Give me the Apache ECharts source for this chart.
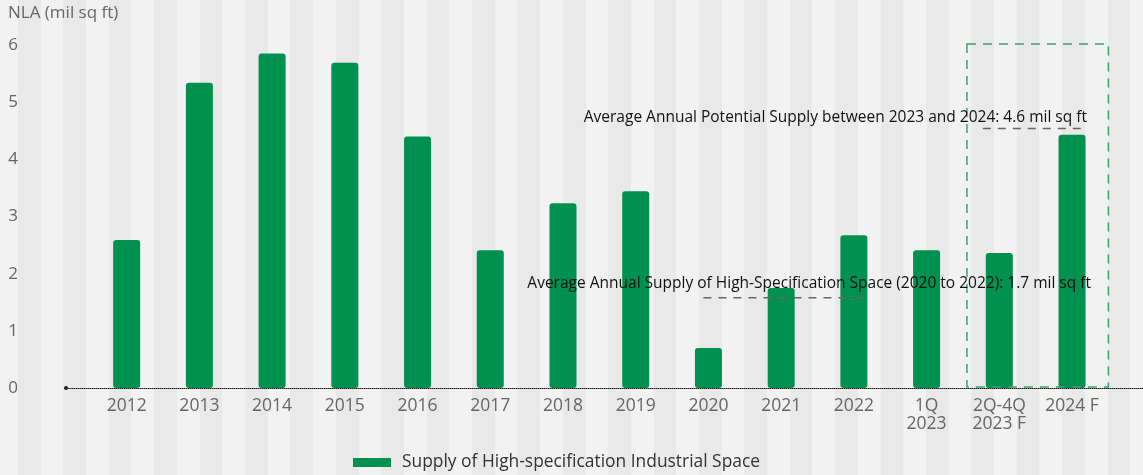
<!DOCTYPE html>
<html>
<head>
<meta charset="utf-8">
<script src="https://cdn.jsdelivr.net/npm/echarts@6/dist/echarts.min.js"></script>
<style>
  html, body { margin: 0; padding: 0; }
  body {
    width: 1143px; height: 475px; overflow: hidden;
    background: repeating-linear-gradient(90deg, #e9e9e9 18px, #e9e9e9 40.7px, #f2f2f2 40.7px, #f2f2f2 63.4px);
  }
  #chart { width: 1143px; height: 475px; }
</style>
</head>
<body>
<div id="chart"></div>
<script>
var categories = ['2012', '2013', '2014', '2015', '2016', '2017', '2018', '2019', '2020', '2021', '2022',
                  '1Q\n2023', '2Q-4Q\n2023 F', '2024 F'];
var supply = [2.59, 5.34, 5.85, 5.69, 4.40, 2.41, 3.23, 3.44, 0.70, 1.75, 2.67, 2.41, 2.36, 4.43];
var yTicks = [0, 1, 2, 3, 4, 5, 6];
var seriesName = 'Supply of High-specification Industrial Space';
var avgTexts = ['Average Annual Supply of High-Specification Space (2020 to 2022): 1.7 mil sq ft',
                'Average Annual Potential Supply between 2023 and 2024: 4.6 mil sq ft'];
// dashed guide lines: first cat index, last cat index, level
var avgLines = [[8, 10, 1.58], [12, 13, 4.54]];
var forecastBox = [[12, 13, 0, 6]]; // first cat, last cat, bottom, top

(function(){
  var myChart = echarts.init(document.getElementById('chart'));
  var green = '#00904f';
  var font = '"Open Sans", sans-serif';
  // how far each guide line runs past the category centres (px, left / right)
  var linePad = [[5, 14], [16.5, 15]];

  var option = {
    backgroundColor: 'transparent',
    animation: false,
    textStyle: { fontFamily: font },
    title: {
      text: 'NLA (mil sq ft)',
      left: 3, top: 0,
      textStyle: { fontSize: 17, fontWeight: 'normal', color: '#666', fontFamily: font }
    },
    legend: {
      data: [seriesName],
      left: 348, top: 449,
      icon: 'rect',
      itemWidth: 38, itemHeight: 9, itemGap: 10,
      textStyle: { fontSize: 17.4, color: '#333', fontFamily: font, padding: [0, 0, 0, 6] }
    },
    grid: [
      { left: 90.3, right: 34.6, top: 45, bottom: 87 },
      { left: 66, right: 0, top: 45, bottom: 87 }
    ],
    xAxis: [{
      type: 'category',
      gridIndex: 0,
      data: categories,
      axisLine: { show: false },
      axisTick: { show: false },
      axisLabel: { color: '#666', fontSize: 17.5, lineHeight: 18, margin: 9, interval: 0, fontFamily: font }
    }, {
      type: 'value',
      gridIndex: 1,
      min: 0, max: 1,
      axisLine: {
        show: true,
        symbol: ['circle', 'none'],
        symbolSize: [4, 4],
        lineStyle: { color: '#222', type: 'dotted', width: 1 }
      },
      axisTick: { show: false },
      axisLabel: { show: false },
      splitLine: { show: false }
    }],
    yAxis: [{
      type: 'value',
      gridIndex: 0,
      min: yTicks[0], max: yTicks[yTicks.length - 1], interval: 1,
      axisLine: { show: false },
      axisTick: { show: false },
      splitLine: { show: false },
      axisLabel: { color: '#666', fontSize: 17, align: 'left', margin: 82, fontFamily: font }
    }, {
      type: 'value',
      gridIndex: 1,
      min: 0, max: 1,
      show: false
    }],
    series: [{
      name: seriesName,
      type: 'bar',
      xAxisIndex: 0, yAxisIndex: 0,
      data: supply,
      barWidth: 27,
      itemStyle: { color: green, borderRadius: 3 },
      z: 3
    }, {
      // dashed average guides
      type: 'custom',
      xAxisIndex: 0, yAxisIndex: 0,
      silent: true,
      z: 4,
      data: avgLines,
      renderItem: function (params, api) {
        var a = api.coord([api.value(0), api.value(2)]);
        var b = api.coord([api.value(1), api.value(2)]);
        var pad = linePad[params.dataIndex];
        return {
          type: 'line',
          shape: { x1: a[0] - pad[0], y1: a[1], x2: b[0] + pad[1], y2: b[1] },
          style: { stroke: '#666', lineWidth: 1.5, lineDash: [8, 7] }
        };
      }
    }, {
      // forecast box
      type: 'custom',
      xAxisIndex: 0, yAxisIndex: 0,
      silent: true,
      z: 4,
      data: forecastBox,
      renderItem: function (params, api) {
        var p0 = api.coord([api.value(0), api.value(3)]);
        var p1 = api.coord([api.value(1), api.value(2)]);
        var band = api.size([1, 0])[0];
        var x0 = p0[0] - band / 2 + 4;
        var x1 = p1[0] + band / 2;
        return {
          type: 'rect',
          shape: { x: x0, y: p0[1] - 1, width: x1 - x0, height: p1[1] - p0[1] },
          style: { fill: 'none', stroke: '#3aa36f', lineWidth: 1.5, lineDash: [9, 7] }
        };
      }
    }],
    graphic: [{
      type: 'text', right: 1143 - 1091, top: 276, z: 10,
      style: { text: avgTexts[0], fontSize: 15.5, fill: '#111', fontFamily: font }
    }, {
      type: 'text', right: 1143 - 1087, top: 110, z: 10,
      style: { text: avgTexts[1], fontSize: 15.5, fill: '#111', fontFamily: font }
    }]
  };
  myChart.setOption(option);
  window.addEventListener('resize', function() {
    myChart.resize();
  });
})();
</script>
</body>
</html>
